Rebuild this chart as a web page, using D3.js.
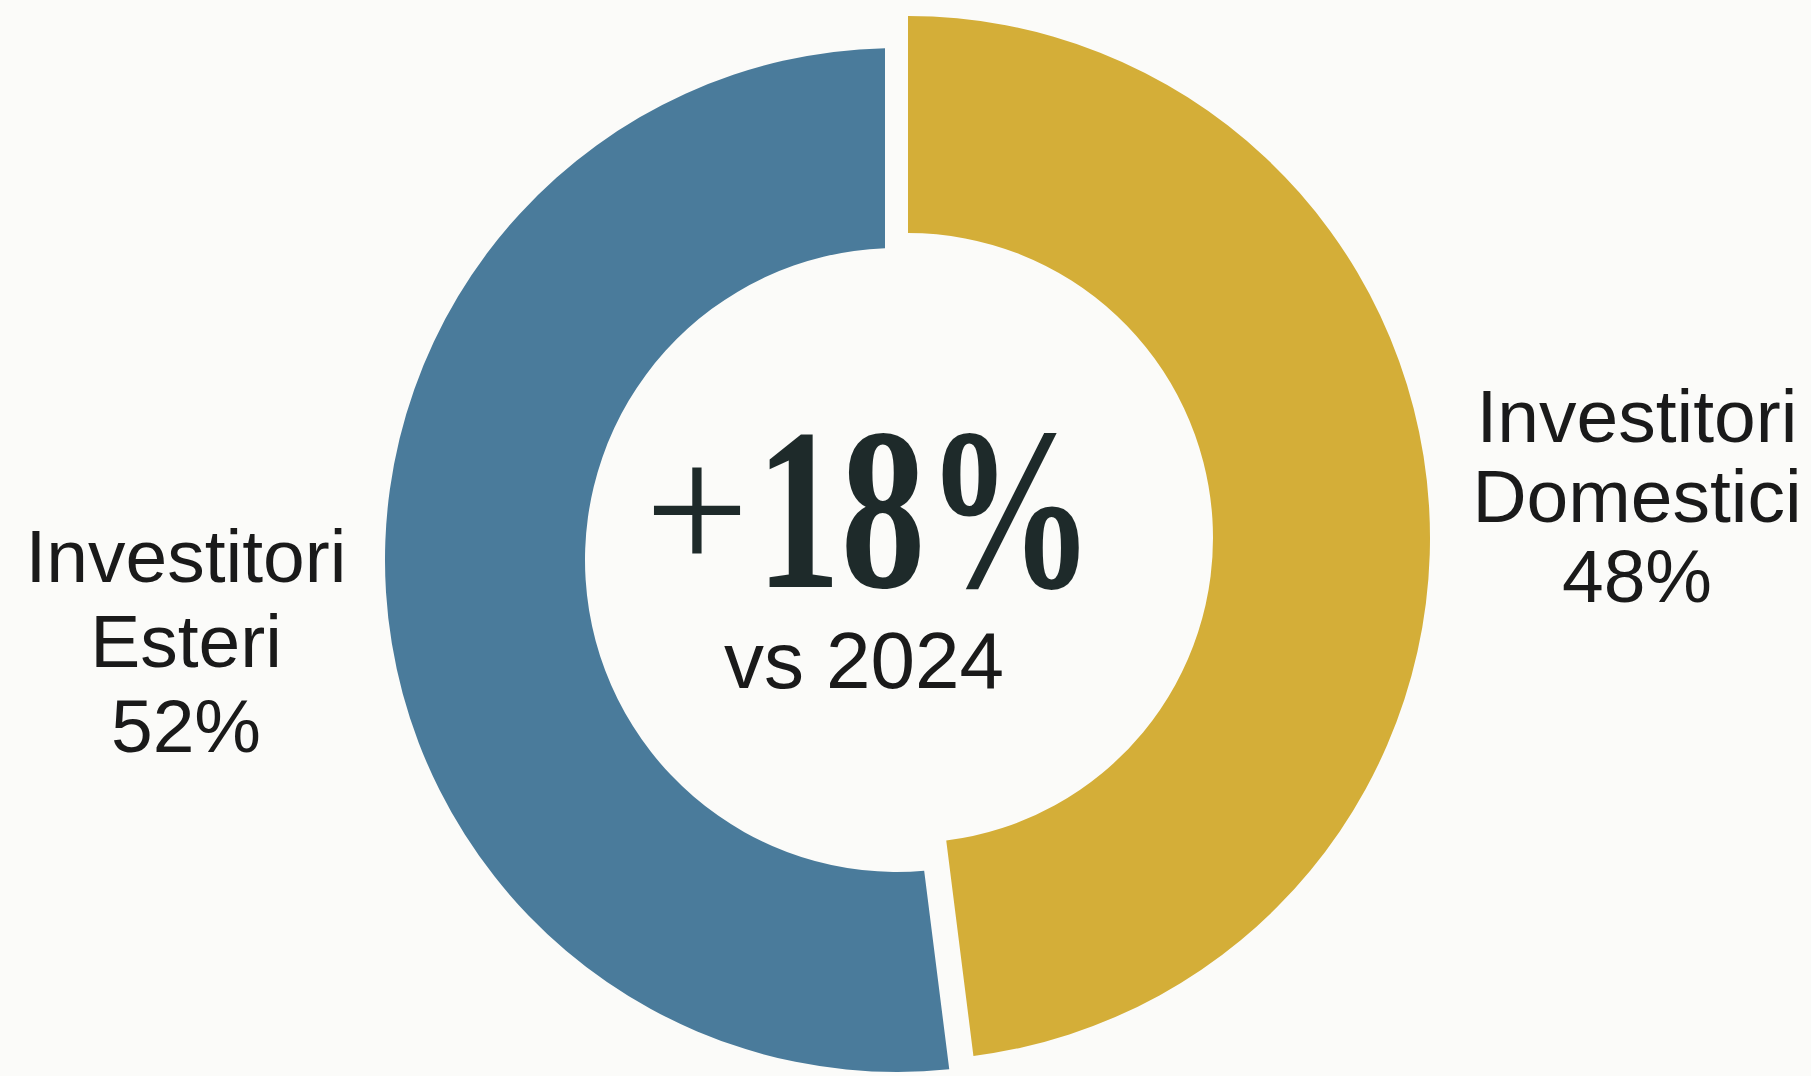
<!DOCTYPE html>
<html>
<head>
<meta charset="utf-8">
<script src="https://cdn.jsdelivr.net/npm/d3@7"></script>
<style>
  html, body { margin: 0; padding: 0; background: #fbfbf9; }
  svg { display: block; }
</style>
</head>
<body>
<svg id="chart" width="1811" height="1076"></svg>
<script>
// ---- data ----
const categories = ["Investitori Domestici", "Investitori Esteri"];
const values = [48, 52];
const labelLines = [["Investitori", "Domestici", "48%"], ["Investitori", "Esteri", "52%"]];
const centerSign = "+";
const centerValue = "18%";
const centerSub = "vs 2024";

// ---- style / layout ----
const colors = ["#d4ae38", "#4a7b9b"];
const sliceLayout = [
  { cx: 908, cy: 538, ri: 305, ro: 522, pad: 0 },
  { cx: 897, cy: 560, ri: 312, ro: 512, pad: 0.06 }
];
const labelLayout = [
  { x: 1637, y: 442, lh: 80 },
  { x: 186, y: 582, lh: 85 }
];

const svg = d3.select("#chart");
svg.append("rect").attr("width", 1811).attr("height", 1076).attr("fill", "#fbfbf9");

const pie = d3.pie().sort(null).value(d => d);
const arcs = pie(values);

arcs.forEach((a, i) => {
  const L = sliceLayout[i];
  const gen = d3.arc().innerRadius(L.ri).outerRadius(L.ro).padRadius(400);
  svg.append("path")
    .attr("transform", `translate(${L.cx},${L.cy})`)
    .attr("d", gen({ ...a, padAngle: L.pad }))
    .attr("fill", colors[i]);
});

// labels
labelLines.forEach((lines, i) => {
  const L = labelLayout[i];
  const t = svg.append("text")
    .attr("text-anchor", "middle")
    .attr("font-family", "'Liberation Sans', Arial, sans-serif")
    .attr("font-size", 75)
    .attr("fill", "#1a1a1a");
  lines.forEach((s, j) => {
    t.append("tspan").attr("x", L.x).attr("y", L.y + j * L.lh).text(s);
  });
});

// center value
svg.append("text")
  .attr("x", 697).attr("y", 572)
  .attr("text-anchor", "middle")
  .attr("font-family", "'Liberation Serif', 'DejaVu Serif', serif")
  .attr("font-size", 185)
  .attr("fill", "#1e2a2a")
  .text(centerSign);

svg.append("text")
  .attr("transform", "translate(756,587) scale(0.73,1)")
  .attr("font-family", "'Liberation Serif', 'DejaVu Serif', serif")
  .attr("font-size", 232)
  .attr("font-weight", "bold")
  .attr("fill", "#1e2a2a")
  .text(centerValue);

svg.append("text")
  .attr("x", 864).attr("y", 688)
  .attr("text-anchor", "middle")
  .attr("font-family", "'Liberation Sans', Arial, sans-serif")
  .attr("font-size", 80)
  .attr("fill", "#1a1a1a")
  .text(centerSub);
</script>
</body>
</html>
